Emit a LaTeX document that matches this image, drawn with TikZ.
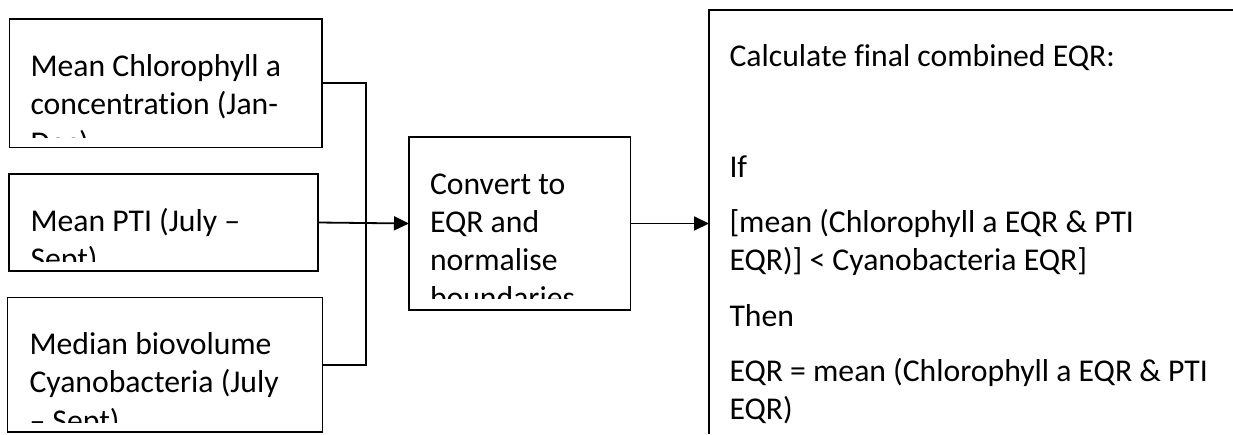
\documentclass[tikz,border=0pt]{standalone}
\usepackage{fontspec}
\setmainfont{Carlito}[Ligatures=NoCommon]
\usetikzlibrary{arrows.meta}
\tikzset{
  boxnode/.style={draw=black, line width=1.8pt, rectangle, inner sep=0pt, outer sep=0pt},
  txt/.style={inner sep=0pt, outer sep=0pt, anchor=base west},
  conn/.style={draw=black, line width=1.8pt},
  arr/.style={conn, -{Triangle[length=15pt,width=14pt]}}
}
\newcommand{\tb}[2]{\parbox[t]{#1}{\raggedright\fontsize{31.7pt}{38.3pt}\selectfont #2}}
\begin{document}
\begin{tikzpicture}[x=1pt,y=-1pt]
\useasboundingbox (0,0) rectangle (1233,434);
% boxes
\node[boxnode, minimum width=312.5pt, minimum height=128.5pt] (b1) at (165.75,83.25) {};
\node[boxnode, minimum width=309pt, minimum height=97pt] (b2) at (163.5,222.5) {};
\node[boxnode, minimum width=315pt, minimum height=134.5pt] (b3) at (165,364.75) {};
\node[boxnode, minimum width=221.5pt, minimum height=173pt] (mid) at (519.75,223.5) {};
% texts (clipped as in the reference)
\begin{scope}
\clip (10,20) rectangle (321,137.5);
\node[txt] (t1) at (30.5,76.5) {\tb{300pt}{Mean Chlorophyll a\\concentration (Jan-\\Dec)}};
\end{scope}
\begin{scope}
\clip (10,175) rectangle (317,261);
\node[txt] (t2) at (30.5,231) {\tb{300pt}{Mean PTI (July --\\Sept)}};
\end{scope}
\begin{scope}
\clip (9,298) rectangle (321,422);
\node[txt] (t3) at (29.5,354.5) {\tb{300pt}{Median biovolume\\Cyanobacteria (July\\-- Sept)}};
\end{scope}
\begin{scope}
\clip (410,138) rectangle (629,298.5);
\node[txt] (t4) at (430,194) {\tb{200pt}{Convert to\\EQR and\\normalise\\boundaries}};
\end{scope}
% big box (cut off at right and bottom)
\coordinate (bigtl) at (709,10);
\coordinate (bigin) at (709,223.5);
\draw[conn] (1233,10) -- (bigtl) -- (709,434);
\node[txt] (t5) at (729.5,66.5) {\tb{500pt}{Calculate final combined EQR:\\[17pt]\mbox{}\\[17pt]If\\[17pt]{[}mean (Chlorophyll a EQR \& PTI\\EQR)] < Cyanobacteria EQR]\\[17pt]Then\\[17pt]EQR = mean (Chlorophyll a EQR \& PTI\\EQR)}};
% connectors
\coordinate (bus) at (366,0);
\draw[conn] (b1.east) -- (b1.east -| bus) -- (b3.east -| bus) -- (b3.east);
\draw[arr] (b2.east) -- (mid.west);
\draw[arr] (mid.east) -- (bigin);
\end{tikzpicture}
\end{document}
